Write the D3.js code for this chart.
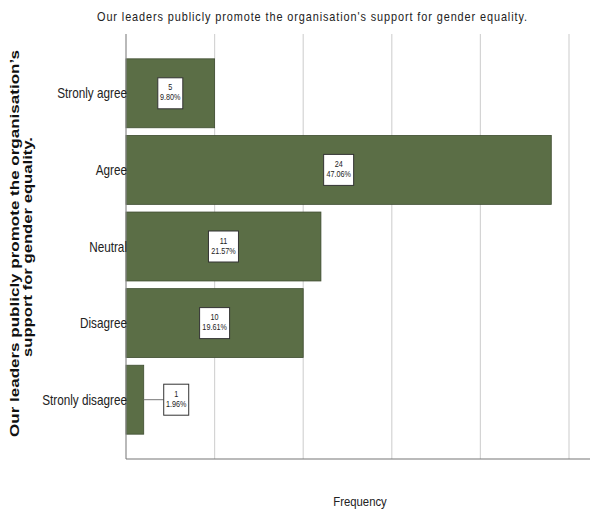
<!DOCTYPE html>
<html>
<head>
<meta charset="utf-8">
<script src="https://cdn.jsdelivr.net/npm/d3@7"></script>
<style>
  html, body { margin: 0; padding: 0; background: #fff; }
  svg { display: block; }
  text { font-family: "Liberation Sans", Arial, sans-serif; }
</style>
</head>
<body>
<svg id="chart" width="590" height="514"></svg>
<script>
// Response categories, counts and percentages
const categories = ["Stronly agree", "Agree", "Neutral", "Disagree", "Stronly disagree"];
const counts = [5, 24, 11, 10, 1];
const percents = ["9.80%", "47.06%", "21.57%", "19.61%", "1.96%"];
const xTicks = [0, 5, 10, 15, 20, 25];

const chartTitle = "Our leaders publicly promote the organisation's support for gender equality.";
const yTitleLines = ["Our leaders publicly promote the organisation\u2019s", "support for gender equality."];
const xTitle = "Frequency";

const svg = d3.select("#chart");
const plot = { left: 126, right: 590, top: 34, bottom: 459 };
const NARROW = 0.84; // horizontal squeeze for the condensed text style

const x = d3.scaleLinear().domain([0, 25]).range([126, 569]);
const y = d3.scaleBand().domain(categories).range([55, 438]).paddingInner(0.1).paddingOuter(0.05);

// condensed text helper: positions a text element and squeezes it horizontally
function narrowText(parent, tx, ty, str, size, anchor, sx = NARROW) {
  return parent.append("text")
    .attr("transform", `translate(${tx},${ty}) scale(${sx},1)`)
    .attr("text-anchor", anchor)
    .attr("font-size", size).attr("fill", "#222")
    .text(str);
}

// vertical grid lines
svg.append("g").selectAll("line").data(xTicks.slice(1)).join("line")
  .attr("x1", d => x(d)).attr("x2", d => x(d))
  .attr("y1", plot.top).attr("y2", plot.bottom)
  .attr("stroke", "#d4d4d4").attr("stroke-width", 1.2);

// bars
const rows = categories.map((c, i) => ({ c, n: counts[i], p: percents[i] }));
svg.append("g").selectAll("rect").data(rows).join("rect")
  .attr("x", x(0)).attr("y", d => y(d.c))
  .attr("width", d => x(d.n) - x(0)).attr("height", y.bandwidth())
  .attr("fill", "#5b6e46").attr("stroke", "#3e4c30").attr("stroke-width", 0.8);

// axes
svg.append("line").attr("x1", plot.left).attr("x2", plot.left)
  .attr("y1", plot.top).attr("y2", plot.bottom)
  .attr("stroke", "#8a8a8a").attr("stroke-width", 1.2);
svg.append("line").attr("x1", plot.left).attr("x2", plot.right)
  .attr("y1", plot.bottom).attr("y2", plot.bottom)
  .attr("stroke", "#777").attr("stroke-width", 1.2);

// category labels
const catG = svg.append("g");
categories.forEach(c => narrowText(catG, plot.left + 1, y(c) + y.bandwidth() / 2 + 5, c, 14, "end"));

// value boxes
const boxW = d => d.p.length > 5 ? 30 : 25;
const boxH = 31;
const labelX = d => {
  const mid = (x(0) + x(d.n)) / 2;
  return d.n < 2 ? x(d.n) + 20 + boxW(d) / 2 : mid;
};
const lg = svg.append("g").selectAll("g").data(rows).join("g")
  .attr("transform", d => `translate(${labelX(d)},${y(d.c) + y.bandwidth() / 2})`);
lg.filter(d => d.n < 2).append("line")
  .attr("x1", d => x(d.n) - labelX(d)).attr("x2", d => -boxW(d) / 2)
  .attr("y1", 0).attr("y2", 0).attr("stroke", "#777").attr("stroke-width", 1);
lg.append("rect")
  .attr("x", d => -boxW(d) / 2).attr("y", -boxH / 2)
  .attr("width", boxW).attr("height", boxH)
  .attr("fill", "#fff").attr("stroke", "#333").attr("stroke-width", 1);
lg.each(function (d) {
  const g = d3.select(this);
  narrowText(g, 0, -3, String(d.n), 8.5, "middle", 0.85);
  narrowText(g, 0, 7, d.p, 8.5, "middle", 0.85);
});

// chart title
narrowText(svg, 312, 21, chartTitle, 13, "middle")
  .attr("textLength", 430 / NARROW).attr("lengthAdjust", "spacing");

// x axis title
narrowText(svg, 360, 506, xTitle, 13.5, "middle");

// y axis title (rotated, two lines, glyphs stretched along the line)
const yt = svg.append("g");
[[14, 243.5, 387], [27.5, 247, 220]].forEach(([cx, cy, len], i) => {
  yt.append("text")
    .attr("transform", `translate(${cx + 4.5},${cy}) rotate(-90)`)
    .attr("text-anchor", "middle")
    .attr("font-weight", "bold").attr("font-size", 13).attr("fill", "#111")
    .attr("textLength", len).attr("lengthAdjust", "spacingAndGlyphs")
    .text(yTitleLines[i]);
});
</script>
</body>
</html>
